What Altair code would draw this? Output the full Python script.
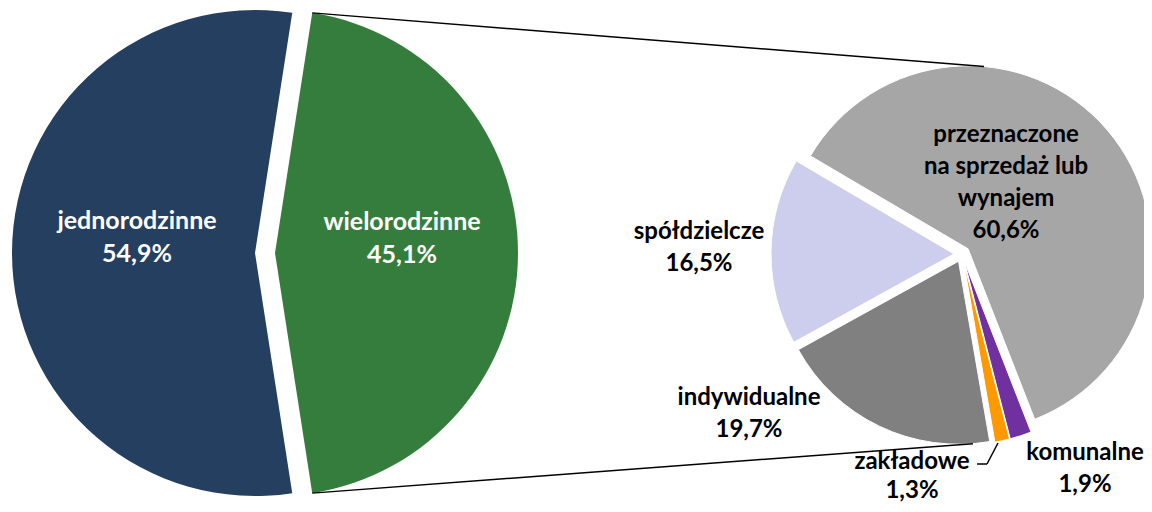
import math
import altair as alt
import pandas as pd

# ---------------- data ----------------
main_categories = ["wielorodzinne", "jednorodzinne"]
main_values = [45.1, 54.9]
main_colors = ["#357D3C", "#253F60"]

sub_categories = ["przeznaczone na sprzedaż lub wynajem", "komunalne", "zakładowe",
                  "indywidualne", "spółdzielcze"]
sub_values = [60.6, 1.9, 1.3, 19.7, 16.5]
sub_colors = ["#A6A6A6", "#7030A0", "#FF9900", "#808080", "#CDCDEE"]

# label line wrapping
label_lines = {"przeznaczone na sprzedaż lub wynajem": ["przeznaczone", "na sprzedaż lub", "wynajem"]}

# ---------------- layout (image pixel coords) ----------------
W, H, OFF = 1136, 496, 8
MAIN_C, MAIN_R = (255, 253), 243
MAIN_START = 90 - main_values[0] * 1.8
MAIN_EXPLODE = [20, 0]
SUB_C, SUB_R = (962, 254), 183
SUB_START = -59.5
SUB_EXPLODE = [8, 8, 8, 8, 8]

# position of the first line of each label
main_label_pos = [(402, 222), (137, 221)]
sub_label_pos = [(1006, 135), (1085, 453), (912, 462), (749, 398), (699, 232)]
sub_line_h = [32, 32, 29, 32, 32]
leader_pts = [(977, 464), (987, 464), (998, 443)]


def fmt(v):
    return f"{v:.1f}".replace(".", ",") + "%"


def pie_frame(cats, vals, start, center, explode):
    rows, cum = [], 0.0
    for c, v, e in zip(cats, vals, explode):
        a0 = start + cum * 3.6
        a1 = a0 + v * 3.6
        mid = math.radians((a0 + a1) / 2)
        rows.append(dict(cat=c, a0=a0, a1=a1,
                         cx=center[0] + e * math.sin(mid),
                         cy=center[1] - e * math.cos(mid)))
        cum += v
    return pd.DataFrame(rows)


main_df = pie_frame(main_categories, main_values, MAIN_START, MAIN_C, MAIN_EXPLODE)
sub_df = pie_frame(sub_categories, sub_values, SUB_START, SUB_C, SUB_EXPLODE)


def on_circle(row, r, ang):
    a = math.radians(ang)
    return row.cx + r * math.sin(a), row.cy - r * math.cos(a)


green = main_df.iloc[0]
gray = sub_df.iloc[0]
indy = sub_df.iloc[3]
p1 = on_circle(green, MAIN_R, green.a0)
p2 = on_circle(gray, SUB_R, 5)
p3 = on_circle(green, MAIN_R, green.a1)
p4 = on_circle(indy, SUB_R, 175.5)
conn_df = pd.DataFrame([
    dict(x=p1[0], y=p1[1], x2=p2[0], y2=p2[1]),
    dict(x=p3[0], y=p3[1], x2=p4[0], y2=p4[1]),
])
leader_df = pd.DataFrame([
    dict(x=leader_pts[i][0], y=leader_pts[i][1], x2=leader_pts[i + 1][0], y2=leader_pts[i + 1][1])
    for i in range(len(leader_pts) - 1)
])

main_text = pd.DataFrame([
    dict(x=p[0], y=p[1], lh=33, text="\n".join(label_lines.get(c, [c]) + [fmt(v)]))
    for c, v, p in zip(main_categories, main_values, main_label_pos)
])
sub_text = pd.DataFrame([
    dict(x=p[0], y=p[1], lh=lh, text="\n".join(label_lines.get(c, [c]) + [fmt(v)]))
    for c, v, p, lh in zip(sub_categories, sub_values, sub_label_pos, sub_line_h)
])

# ---------------- scales ----------------
xs = alt.Scale(domain=[OFF, OFF + W], range=[0, W])
ys = alt.Scale(domain=[OFF, OFF + H], range=[0, H])
ts = alt.Scale(domain=[0, 360], range=[0, 2 * math.pi])
cs = alt.Scale(domain=main_categories + sub_categories, range=main_colors + sub_colors)


def pie(df, r, **kw):
    return alt.Chart(df).mark_arc(radius=r, **kw).encode(
        x=alt.X("cx:Q", scale=xs, axis=None),
        y=alt.Y("cy:Q", scale=ys, axis=None),
        theta=alt.Theta("a0:Q", scale=ts, stack=None),
        theta2="a1:Q",
        color=alt.Color("cat:N", scale=cs, legend=None),
    )


def rules(df, width):
    return alt.Chart(df).mark_rule(color="black", strokeWidth=width).encode(
        x=alt.X("x:Q", scale=xs, axis=None), x2="x2:Q",
        y=alt.Y("y:Q", scale=ys, axis=None), y2="y2:Q",
    )


def texts(df, color, size):
    layers = []
    for lh, sub in df.groupby("lh"):
        layers.append(alt.Chart(sub).mark_text(
            font="Lato", fontWeight="bold", fontSize=size, color=color,
            lineBreak="\n", lineHeight=int(lh), align="center", baseline="middle",
        ).encode(
            x=alt.X("x:Q", scale=xs, axis=None),
            y=alt.Y("y:Q", scale=ys, axis=None),
            text="text:N",
        ))
    return alt.layer(*layers)


chart = alt.layer(
    pie(main_df, MAIN_R),
    pie(sub_df, SUB_R, stroke="white", strokeWidth=1),
    rules(conn_df, 1.5),
    rules(leader_df, 1.5),
    texts(main_text, "white", 25),
    texts(sub_text, "black", 24),
).properties(
    width=W, height=H, padding=0,
    autosize=alt.AutoSizeParams(type="none"),
).configure_view(stroke=None)

chart.save("out.html", embed_options={"renderer": "svg", "actions": False})
